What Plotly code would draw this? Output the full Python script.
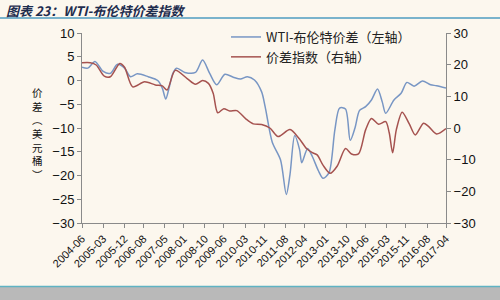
import plotly.graph_objects as go

# ---- data ----
spread_dates = [
    "2004-06-01", "2004-08-15", "2004-11-15", "2005-03-01", "2005-06-01", "2005-09-01",
    "2005-12-01", "2006-02-15", "2006-05-15", "2006-10-01", "2007-02-01", "2007-04-01",
    "2007-05-15", "2007-07-01", "2007-08-15", "2007-10-01", "2008-01-15", "2008-06-01",
    "2008-09-01", "2008-12-01", "2009-03-01", "2009-06-15", "2009-10-01", "2010-01-01",
    "2010-04-01", "2010-07-01", "2010-10-01", "2010-11-15", "2011-02-15", "2011-06-01",
    "2011-08-15", "2011-10-01", "2011-12-01", "2012-02-01", "2012-03-01", "2012-05-15",
    "2012-07-15", "2012-10-01", "2012-12-01", "2013-02-15", "2013-05-01", "2013-07-01",
    "2013-09-15", "2013-11-15", "2014-01-15", "2014-03-15", "2014-06-01", "2014-08-15",
    "2014-11-01", "2015-01-01", "2015-02-15", "2015-06-01", "2015-09-01", "2015-11-15",
    "2016-02-15", "2016-06-01", "2016-09-15", "2016-12-01", "2017-04-01",
]
spread_values = [
    2.8, 2.6, 4.0, 1.9, 1.5, 3.4,
    2.6, 0.8, 1.4, 0.8, 0.0, -1.6,
    -3.9, -1.3, 1.5, 2.6, 1.7, 1.7,
    4.3, 1.5, -0.9, 1.3, 0.7, 0.3,
    0.8, 0.1, -2.4, -5.5, -13.0, -16.7,
    -24.0, -19.8, -11.6, -14.5, -17.3, -14.3,
    -16.0, -19.0, -20.6, -19.4, -10.4, -5.8,
    -6.0, -12.6, -10.0, -6.3, -5.5, -4.1,
    -1.8, -4.5, -6.9, -4.1, -2.7, -0.4,
    -1.2, -0.1, -0.9, -1.1, -1.6,
]

index_dates = [
    "2004-06-01", "2004-09-15", "2004-12-01", "2005-03-15", "2005-06-01", "2005-10-01",
    "2005-12-01", "2006-03-15", "2006-08-15", "2007-01-01", "2007-04-01", "2007-06-01",
    "2007-09-15", "2008-02-15", "2008-06-01", "2008-09-01", "2008-11-15", "2009-01-15",
    "2009-03-15", "2009-06-01", "2009-08-15", "2009-11-15", "2010-03-15", "2010-06-15",
    "2010-10-01", "2011-01-15", "2011-05-01", "2011-10-01", "2012-02-01", "2012-05-01",
    "2012-07-15", "2012-09-15", "2012-12-01", "2013-03-01", "2013-06-01", "2013-09-15",
    "2013-12-01", "2014-03-01", "2014-06-01", "2014-08-15", "2014-11-15", "2015-02-15",
    "2015-04-01", "2015-05-15", "2015-07-01", "2015-09-15", "2015-12-15", "2016-03-01",
    "2016-06-15", "2016-08-15", "2016-12-01", "2017-04-01",
]
index_values = [
    20.6, 20.6, 19.9, 16.4, 16.2, 20.4,
    19.2, 13.0, 14.6, 13.6, 13.3, 12.0,
    18.2, 15.6, 13.8, 15.0, 14.1, 11.0,
    4.8, 6.1, 5.4, 5.5, 2.8, 1.3,
    1.1, 0.0, -2.7, -0.5, -3.5, -6.5,
    -7.8, -8.5, -11.8, -14.3, -12.0, -6.5,
    -8.2, -8.2, -0.6, 3.0, 1.2, 2.0,
    -1.5, -7.8, -0.6, 5.0, 1.3, -2.2,
    1.5, 0.6, -1.9, -0.2,
]

tick_labels = [
    "2004-06", "2005-03", "2005-12", "2006-08", "2007-05", "2008-01", "2008-10",
    "2009-06", "2010-03", "2010-11", "2011-08", "2012-04", "2013-01", "2013-10",
    "2014-06", "2015-03", "2015-11", "2016-08", "2017-04",
]

series_names = ["WTI-布伦特价差（左轴）", "价差指数（右轴）"]
title_text = "图表 23：WTI-布伦特价差指数"
ytitle_chars = ["价", "差", "︵", "美", "元", "桶", "︶"]

# ---- styling ----
BG = "#fcf7ee"
BLUE = "#7896c4"
RED = "#a5524f"
AXIS = "#8a8a8a"
LATIN = "Liberation Sans, Arial, sans-serif"
CJK = "Noto Sans CJK SC, sans-serif"

W, H = 500, 300
L, R, T, B = 82, 54, 33, 77
pw, ph = W - L - R, H - T - B


def px_x(x):
    return (x - L) / pw


def px_y(y):
    return (H - B - y) / ph


fig = go.Figure()
fig.add_trace(go.Scatter(
    x=spread_dates, y=spread_values, name=series_names[0], mode="lines",
    line=dict(color=BLUE, width=1.5, shape="spline", smoothing=0.8), yaxis="y"))
fig.add_trace(go.Scatter(
    x=index_dates, y=index_values, name=series_names[1], mode="lines",
    line=dict(color=RED, width=1.5, shape="spline", smoothing=0.8), yaxis="y2"))

tickvals = [lbl + "-01" for lbl in tick_labels]

fig.update_layout(
    width=W, height=H,
    margin=dict(l=L, r=R, t=T, b=B, pad=0),
    paper_bgcolor=BG, plot_bgcolor=BG,
    showlegend=True,
    legend=dict(x=px_x(226), y=px_y(22), xanchor="left", yanchor="top",
                bgcolor="rgba(0,0,0,0)", font=dict(family=CJK, size=13, color="#222"),
                itemwidth=30, tracegroupgap=0),
    xaxis=dict(type="date", range=[spread_dates[0], spread_dates[-1]],
               tickmode="array", tickvals=tickvals, ticktext=tick_labels,
               tickangle=-45, tickfont=dict(family=LATIN, size=11, color="#111"),
               showgrid=False, zeroline=False, showline=True, linecolor=AXIS, linewidth=1,
               ticks="outside", ticklen=4, tickcolor=AXIS),
    yaxis=dict(range=[-30, 10], dtick=5, tick0=0, showgrid=False, zeroline=False,
               showline=True, linecolor=AXIS, linewidth=1, ticks="outside", ticklen=4,
               tickcolor=AXIS, tickfont=dict(family=LATIN, size=13, color="#111")),
    yaxis2=dict(range=[-30, 30], dtick=10, tick0=0, overlaying="y", side="right",
                showgrid=False, zeroline=False, showline=True, linecolor=AXIS, linewidth=1,
                ticks="outside", ticklen=4, tickcolor=AXIS,
                tickfont=dict(family=LATIN, size=13, color="#111")),
)

annotations = [
    dict(text="<b><i>" + title_text + "</i></b>", xref="paper", yref="paper",
         x=px_x(4), y=px_y(10), xanchor="left", yanchor="middle", showarrow=False,
         font=dict(family=CJK, size=13, color="#1f2d4e")),
    dict(text="<br>".join(ytitle_chars), xref="paper", yref="paper",
         x=px_x(37), y=px_y(133), xanchor="center", yanchor="middle", showarrow=False,
         font=dict(family=CJK, size=10.5, color="#111")),
]
fig.update_layout(annotations=annotations)

fig.update_layout(shapes=[
    dict(type="line", xref="paper", yref="paper", x0=px_x(0), x1=px_x(W),
         y0=px_y(18), y1=px_y(18), line=dict(color="#4f9cc0", width=1.5)),
    dict(type="rect", xref="paper", yref="paper", x0=px_x(0), x1=px_x(W),
         y0=px_y(H), y1=px_y(287), fillcolor="#b9b9b9", line=dict(width=0), layer="below"),
    dict(type="line", xref="paper", yref="paper", x0=px_x(0), x1=px_x(W),
         y0=px_y(286.5), y1=px_y(286.5), line=dict(color="#5fb3c3", width=1.5)),
])

fig.write_html("out.html")
